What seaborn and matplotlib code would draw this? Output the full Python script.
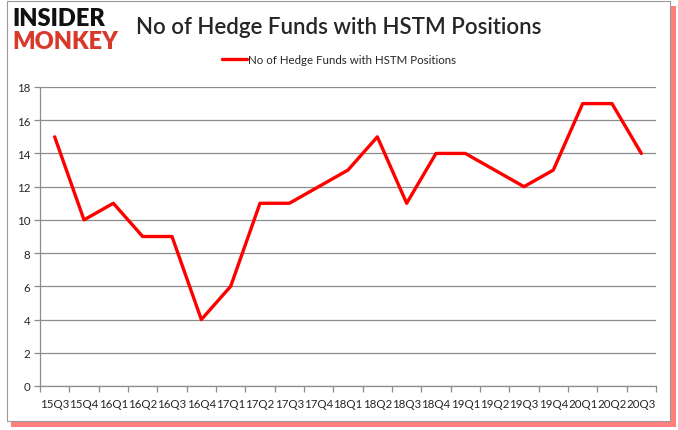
import matplotlib.pyplot as plt
import matplotlib.patches as patches
import pandas as pd
import seaborn as sns

quarters = ["15Q3", "15Q4", "16Q1", "16Q2", "16Q3", "16Q4", "17Q1", "17Q2", "17Q3",
            "17Q4", "18Q1", "18Q2", "18Q3", "18Q4", "19Q1", "19Q2", "19Q3", "19Q4",
            "20Q1", "20Q2", "20Q3"]
funds = [15, 10, 11, 9, 9, 4, 6, 11, 11, 12, 13, 15, 11, 14, 14, 13, 12, 13, 17, 17, 14]
series_name = "No of Hedge Funds with HSTM Positions"
title = "No of Hedge Funds with HSTM Positions"

df = pd.DataFrame({"quarter": quarters, "funds": funds})

sns.set_style("white")
plt.rcParams["font.family"] = ["Lato", "DejaVu Sans"]

W, H = 678, 431
fig = plt.figure(figsize=(W / 100, H / 100), dpi=100)


def px_rect(x0, y0, x1, y1):
    # pixel box (top-left origin) -> figure fraction (x, y, w, h)
    return x0 / W, 1 - y1 / H, (x1 - x0) / W, (y1 - y0) / H


# frame with red shadow
sx, sy, sw, sh = px_rect(11, 7, 676, 428)
fig.patches.append(patches.Rectangle((sx, sy), sw, sh, transform=fig.transFigure,
                                     facecolor="#ff2a2a", edgecolor="none", alpha=0.6, zorder=-2))
fx, fy, fw, fh = px_rect(7, 2, 670, 422)
fig.patches.append(patches.Rectangle((fx, fy), fw, fh, transform=fig.transFigure,
                                     facecolor="white", edgecolor="#9a9a9a", linewidth=0.8,
                                     zorder=-1))

ax = fig.add_axes(px_rect(40, 88, 656, 387))
ax.patch.set_alpha(0)

sns.lineplot(data=df, x="quarter", y="funds", sort=False, color="#ff0000",
             linewidth=2.4, label=series_name, ax=ax)

ax.set_xlim(-0.5, len(quarters) - 0.5)
ax.set_ylim(0, 18)
ax.set_yticks(range(0, 19, 2))
ax.set_xlabel("")
ax.set_ylabel("")
ax.grid(axis="y", color="#8c8c8c", linewidth=0.9)
ax.set_axisbelow(True)
for side in ["top", "right"]:
    ax.spines[side].set_visible(False)
for side in ["left", "bottom"]:
    ax.spines[side].set_color("#8c8c8c")
    ax.spines[side].set_linewidth(0.9)

# category ticks sit between the labels
ax.set_xticks([i - 0.5 for i in range(len(quarters) + 1)], minor=True)
ax.tick_params(axis="x", which="minor", length=4, color="#8c8c8c", width=0.9)
ax.tick_params(axis="x", which="major", length=0, labelsize=8.3, pad=9)
ax.tick_params(axis="y", length=4, color="#8c8c8c", width=0.9, labelsize=8.3, pad=3)
ax.yaxis.set_ticks_position("left")
ax.xaxis.set_ticks_position("bottom")

ax.legend(loc="center", bbox_to_anchor=(0.5, 1 - 61 / H), bbox_transform=fig.transFigure,
          frameon=False, fontsize=8.3, handlelength=2.2, handletextpad=0.1)

fig.text(0.5, 1 - 27 / H, title, ha="center", va="center", fontsize=16, fontweight="semibold")

# logo
fig.text(12 / W, 1 - 19 / H, "INSIDER", ha="left", va="center", fontsize=17,
         fontweight="heavy", color="#111111")
fig.text(12 / W, 1 - 42 / H, "MONKEY", ha="left", va="center", fontsize=17,
         fontweight="heavy", color="#d8392b")

fig.savefig("out.png", dpi=100)
